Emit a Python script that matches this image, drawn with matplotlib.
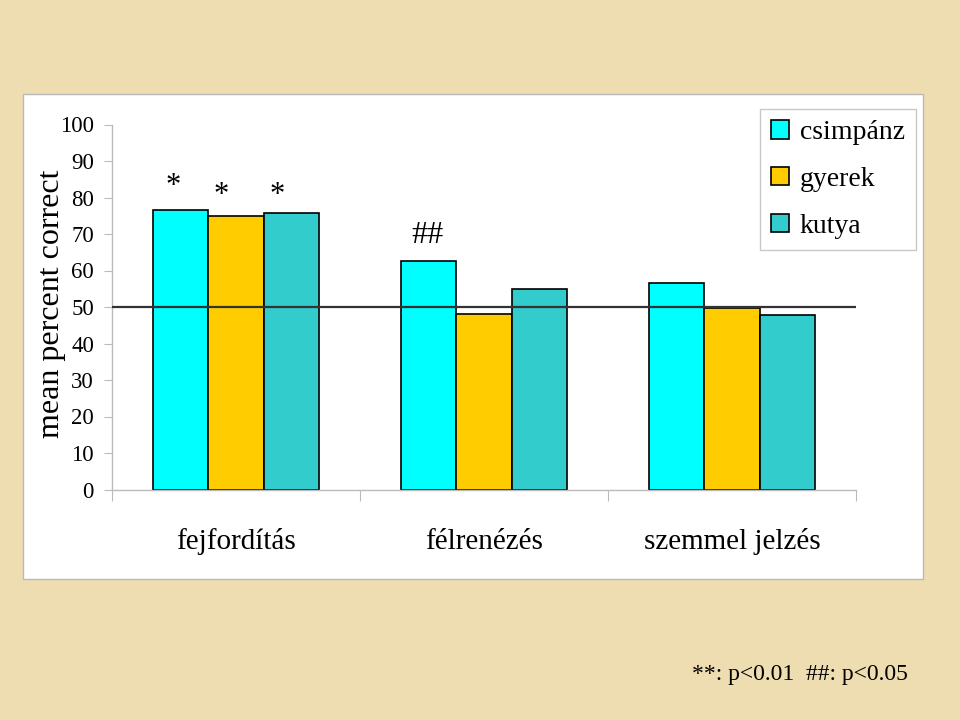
import matplotlib
matplotlib.use("Agg")
import matplotlib.pyplot as plt
from matplotlib.patches import Rectangle, Patch
import numpy as np

plt.rcParams['font.family'] = ['Liberation Serif', 'DejaVu Serif']

categories = ["fejfordítás", "félrenézés", "szemmel jelzés"]
series_names = ["csimpánz", "gyerek", "kutya"]
csimpanz = [76.7, 62.5, 56.6]
gyerek = [75.0, 48.1, 49.7]
kutya = [75.8, 54.9, 47.7]
colors = ["#00FFFF", "#FFCC00", "#33CCCC"]
yticks = [0, 10, 20, 30, 40, 50, 60, 70, 80, 90, 100]
reference_level = 50

fig = plt.figure(figsize=(9.6, 7.2), dpi=100)
fig.patch.set_facecolor("#EFDDB2")

# white panel
panel = Rectangle((23/960, 1-579/720), (923-23)/960, (579-94)/720,
                  transform=fig.transFigure, facecolor="white",
                  edgecolor="#b8b8b8", linewidth=1.0, zorder=-10)
fig.patches.append(panel)

ax = fig.add_axes([112/960, 1-489.5/720, (856-112)/960, (489.5-124.5)/720])
ax.set_facecolor("none")

x = np.arange(len(categories))
w = 0.222
for i, (vals, c, name) in enumerate(zip([csimpanz, gyerek, kutya], colors, series_names)):
    ax.bar(x + (i-1)*w, vals, width=w, color=c, edgecolor="black",
           linewidth=1.2, label=name, zorder=2)

ax.axhline(reference_level, color="#333333", linewidth=1.6, zorder=3)

ax.set_xlim(-0.5, len(categories)-0.5)
ax.set_ylim(0, 100)
ax.set_yticks(yticks)
ax.set_yticklabels([str(v) for v in yticks], fontsize=16.5)
ax.set_xticks(np.arange(len(categories)+1) - 0.5)
ax.set_xticklabels([])
ax.set_xticks(x, minor=True)
ax.set_xticklabels(categories, minor=True, fontsize=21, va='baseline')
ax.tick_params(axis='x', which='major', length=8, color="#bbbbbb", direction='out')
ax.tick_params(axis='x', which='minor', length=0, pad=43)
ax.tick_params(axis='y', length=6, color="#bbbbbb", pad=7, direction='out')

for s in ['top', 'right']:
    ax.spines[s].set_visible(False)
for s in ['left', 'bottom']:
    ax.spines[s].set_color("#bbbbbb")
    ax.spines[s].set_linewidth(1.0)

ax.set_ylabel("mean percent correct", fontsize=23)
ax.yaxis.set_label_coords(-0.062, 0.508)

# significance marks
ax.text(0 - 0.255, 80.9, "*", fontsize=22, ha='center', va='baseline')
ax.text(0 - 0.060, 78.5, "*", fontsize=22, ha='center', va='baseline')
ax.text(0 + 0.165, 78.5, "*", fontsize=22, ha='center', va='baseline')
ax.text(1 - 0.229, 67.6, "##", fontsize=23, ha='center', va='baseline')

handles = [Patch(facecolor=c, edgecolor="black", linewidth=1.2) for c in colors]
leg = fig.legend(handles, series_names, loc='upper right',
                 bbox_to_anchor=(916/960, 1-109/720), fontsize=20,
                 frameon=True, fancybox=False, framealpha=1,
                 edgecolor="#c8c8c8", handlelength=0.65, handleheight=0.65,
                 handletextpad=0.4, labelspacing=0.78, borderpad=0.4,
                 borderaxespad=0)
leg.get_frame().set_linewidth(1.0)

fig.text(908/960, 1-680/720, "**: p<0.01  ##: p<0.05", fontsize=17,
         ha='right', va='baseline')

fig.savefig("out.png", dpi=100, facecolor=fig.get_facecolor())
